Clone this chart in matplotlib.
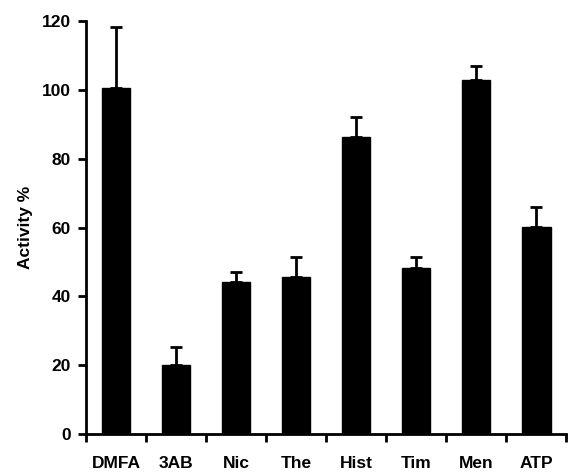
import numpy as np
import matplotlib.pyplot as plt

plt.rcParams['font.family'] = ['Liberation Sans', 'DejaVu Sans']

categories = ["DMFA", "3AB", "Nic", "The", "Hist", "Tim", "Men", "ATP"]
activity = [100.5, 20.0, 44.3, 45.5, 86.3, 48.2, 102.8, 60.2]
error = [17.8, 5.3, 2.7, 6.0, 5.7, 3.3, 4.2, 5.8]

fig = plt.figure(figsize=(5.73, 4.73), dpi=100)
ax = fig.add_axes([0.150, 0.0825, 0.838, 0.873])

x = np.arange(len(categories))
ax.bar(x, activity, width=0.48, color="black", edgecolor="black")
ax.errorbar(x, activity, yerr=[np.zeros(len(error)), error], fmt="none",
            ecolor="black", elinewidth=2, capsize=4, capthick=2)

ax.set_xlim(-0.5, len(categories) - 0.5)
ax.set_ylim(0, 120)
ax.set_yticks(range(0, 121, 20))
ax.set_xticks(np.arange(-0.5, len(categories)), labels=[])
ax.set_xticks(x, labels=categories, minor=True)
ax.tick_params(axis="x", which="major", direction="out", length=6, width=2)
ax.tick_params(axis="x", which="minor", length=0, pad=16)
ax.tick_params(axis="y", direction="out", length=6, width=2, pad=5)
for lab in ax.get_xticklabels(minor=True) + ax.get_yticklabels():
    lab.set_fontweight("bold")
    lab.set_fontsize(12.5)

ax.set_ylabel("Activity %", fontsize=12.5, fontweight="bold", labelpad=6)
for side in ["top", "right"]:
    ax.spines[side].set_visible(False)
for side in ["left", "bottom"]:
    ax.spines[side].set_linewidth(2)

fig.savefig("out.png", dpi=100)
